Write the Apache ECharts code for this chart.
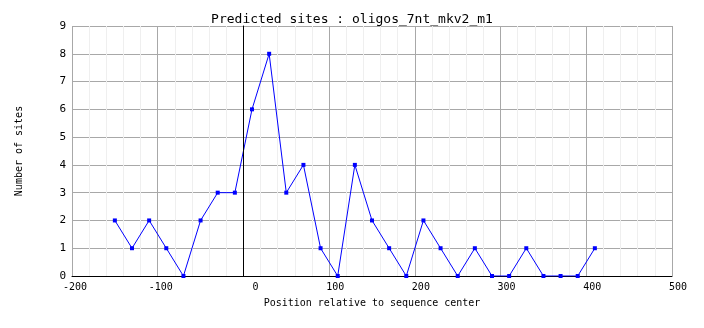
<!DOCTYPE html>
<html lang="en">
<head>
    <meta charset="UTF-8">
    <title>Predicted sites</title>
    <script src="https://cdn.jsdelivr.net/npm/echarts@6/dist/echarts.min.js"></script>
    <style>
        html,body{
            margin: 0;
            padding: 0;
            background: #fff;
        }
        #main{
            width: 704px;
            height: 328px;
        }
    </style>
</head>
<body>
<div id="main"></div>
<script>
    // positions (bin centres) and site counts
    var positions=[-150,-130,-110,-90,-70,-50,-30,-10,10,30,50,70,90,110,130,150,170,190,210,230,250,270,290,310,330,350,370,390,410];
    var counts=[2,1,2,1,0,2,3,3,6,8,3,4,1,0,4,2,1,0,2,1,0,1,0,0,1,0,0,0,1];
    var xTicks=[-200,-100,0,100,200,300,400,500];
    var yTicks=[0,1,2,3,4,5,6,7,8,9];

    var FONT='DejaVu Sans Mono';
    var points=[];
    for(var i=0;i<positions.length;i++){
        points.push([positions[i],counts[i]]);
    }

    var chart=echarts.init(document.getElementById('main'));
    var option={
        animation:false,
        title:{
            text:'Predicted sites : oligos_7nt_mkv2_m1',
            left:'center',
            top:8,
            textStyle:{fontFamily:FONT,fontSize:13,fontWeight:'normal',color:'#000'}
        },
        grid:{left:72,right:32,top:26,bottom:52},
        xAxis:{
            type:'value',
            min:xTicks[0],
            max:xTicks[xTicks.length-1],
            interval:100,
            name:'Position relative to sequence center',
            nameLocation:'middle',
            nameGap:22,
            nameTextStyle:{fontFamily:FONT,fontSize:10,color:'#000'},
            axisLine:{show:true,onZero:false,lineStyle:{color:'#000',width:1}},
            axisTick:{show:false},
            axisLabel:{
                fontFamily:FONT,fontSize:10,color:'#000',margin:6,
                showMinLabel:true,showMaxLabel:true,
                //标签右对齐在网格线右侧
                formatter:function (v) {
                    var s=String(v);
                    while(s.length<5){ s=' '+s; }
                    return s;
                }
            },
            splitLine:{show:true,lineStyle:{color:'#a8a8a8',width:1}},
            minorTick:{show:false,splitNumber:5},
            minorSplitLine:{show:true,lineStyle:{color:'#efefef',width:1}}
        },
        yAxis:{
            type:'value',
            min:yTicks[0],
            max:yTicks[yTicks.length-1],
            interval:1,
            name:'Number of sites',
            nameLocation:'middle',
            nameGap:48,
            nameTextStyle:{fontFamily:FONT,fontSize:10,color:'#000'},
            axisLine:{show:true,lineStyle:{color:'#000',width:1}},
            axisTick:{show:false},
            axisLabel:{fontFamily:FONT,fontSize:11,color:'#000',margin:6},
            splitLine:{show:true,lineStyle:{color:'#a8a8a8',width:1}}
        },
        series:[{
            type:'line',
            data:points,
            symbol:'rect',
            symbolSize:4,
            lineStyle:{color:'#0000ff',width:1},
            itemStyle:{color:'#0000ff'},
            markLine:{
                silent:true,
                symbol:['none','none'],
                label:{show:false},
                lineStyle:{color:'#000',width:1,type:'solid'},
                data:[{xAxis:0}]
            }
        }]
    };
    chart.setOption(option);
</script>
</body>
</html>
